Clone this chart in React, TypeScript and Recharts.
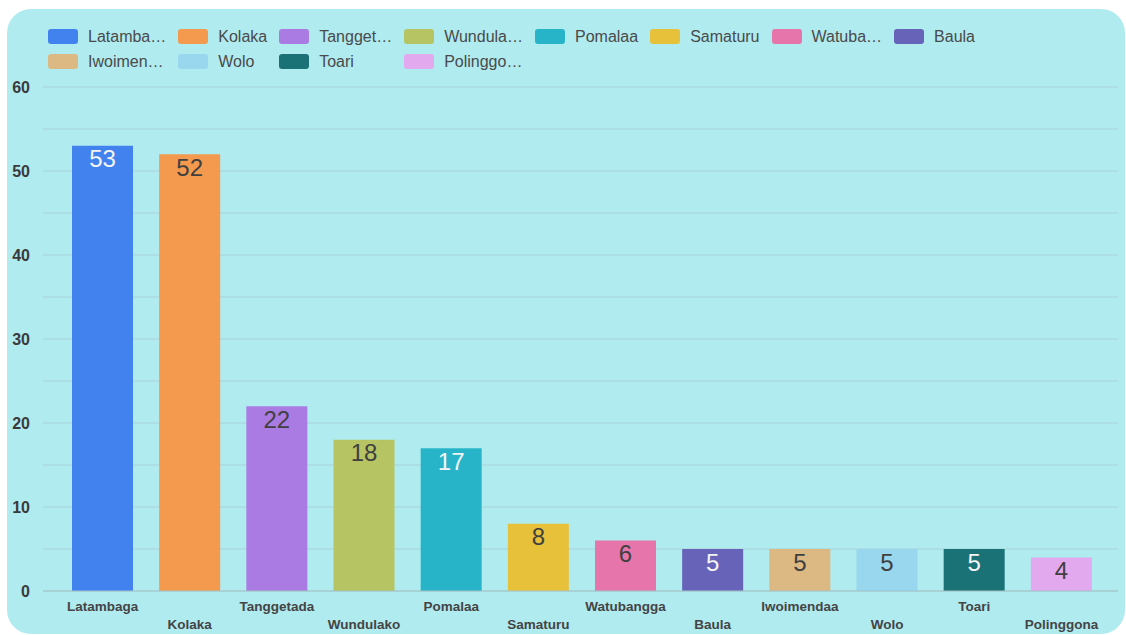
import React from "react";
import { BarChart, Bar, XAxis, YAxis, CartesianGrid, Cell, LabelList } from "recharts";

const categories = [
  "Latambaga", "Kolaka", "Tanggetada", "Wundulako", "Pomalaa", "Samaturu",
  "Watubangga", "Baula", "Iwoimendaa", "Wolo", "Toari", "Polinggona",
];
const values = [53, 52, 22, 18, 17, 8, 6, 5, 5, 5, 5, 4];
const legendLabels = [
  "Latamba…", "Kolaka", "Tangget…", "Wundula…", "Pomalaa", "Samaturu",
  "Watuba…", "Baula", "Iwoimen…", "Wolo", "Toari", "Polinggo…",
];
const yTicks = [0, 5, 10, 15, 20, 25, 30, 35, 40, 45, 50, 55, 60];

const colors = [
  "#4282ef", "#f39a4e", "#a97be3", "#b7c463", "#27b4c8", "#e8c13b",
  "#e575ab", "#6663b8", "#dcb983", "#98d7ee", "#1a7277", "#e2a9ef",
];
const labelColors = [
  "#f4f4f4", "#404040", "#404040", "#404040", "#f4f4f4", "#404040",
  "#404040", "#f4f4f4", "#404040", "#404040", "#f4f4f4", "#404040",
];

const data = categories.map((name, i) => ({ name, value: values[i] }));

const FONT = "Arial, 'Liberation Sans', sans-serif";

const YTick = (props: any) => {
  const { x, y, payload } = props;
  if (payload.value % 10 !== 0) return null;
  return (
    <text x={x} y={y} textAnchor="end" dominantBaseline="central" fontFamily={FONT}
      fontSize={16} fontWeight="bold" fill="#3a3a3a">
      {payload.value}
    </text>
  );
};

const XTick = (props: any) => {
  const { x, y, payload, index } = props;
  const dy = index % 2 === 0 ? 15 : 33;
  return (
    <text x={x} y={y + dy} textAnchor="middle" dominantBaseline="central" fontFamily={FONT}
      fontSize={13.5} fontWeight="bold" fill="#444">
      {payload.value}
    </text>
  );
};

const BarLabel = (props: any) => {
  const { x, y, width, value, index } = props;
  return (
    <text x={x + width / 2} y={y + 13} textAnchor="middle" dominantBaseline="central"
      fontFamily={FONT} fontSize={24} fill={labelColors[index]}>
      {value}
    </text>
  );
};

export default function App() {
  return (
    <div
      style={{
        position: "absolute",
        left: 7,
        top: 9,
        width: 1118,
        height: 625,
        background: "#b0ebf0",
        borderRadius: 24,
        overflow: "hidden",
      }}
    >
      <div
        style={{
          position: "absolute",
          left: 41,
          top: 15,
          display: "grid",
          gridTemplateColumns: "repeat(8, max-content)",
          columnGap: 12,
          fontFamily: FONT,
          fontSize: 16,
          color: "#4a4a4a",
        }}
      >
        {legendLabels.map((l, i) => (
          <div key={i} style={{ display: "flex", alignItems: "center", height: 25 }}>
            <div style={{ width: 30, height: 15, borderRadius: 3, background: colors[i], marginRight: 10 }} />
            <span style={{ whiteSpace: "nowrap" }}>{l}</span>
          </div>
        ))}
      </div>
      <div style={{ position: "absolute", left: 0, top: 0 }}>
        <BarChart
          width={1119}
          height={625}
          data={data}
          margin={{ top: 78, right: 8, bottom: 13, left: 0 }}
          barCategoryGap="0%"
        >
          <CartesianGrid vertical={false} stroke="#a7d2d6" strokeWidth={1} />
          <XAxis
            dataKey="name"
            interval={0}
            height={30}
            tickLine={false}
            tickSize={0}
            tickMargin={0}
            axisLine={{ stroke: "#a3c4c8" }}
            padding={{ left: 16, right: 13 }}
            tick={<XTick />}
          />
          <YAxis
            width={36}
            domain={[0, 60]}
            ticks={yTicks}
            interval={0}
            axisLine={false}
            tickLine={false}
            tickSize={0}
            tickMargin={13}
            tick={<YTick />}
          />
          <Bar dataKey="value" barSize={61} isAnimationActive={false}>
            {data.map((d, i) => (
              <Cell key={d.name} fill={colors[i]} />
            ))}
            <LabelList dataKey="value" content={<BarLabel />} />
          </Bar>
        </BarChart>
      </div>
    </div>
  );
}
